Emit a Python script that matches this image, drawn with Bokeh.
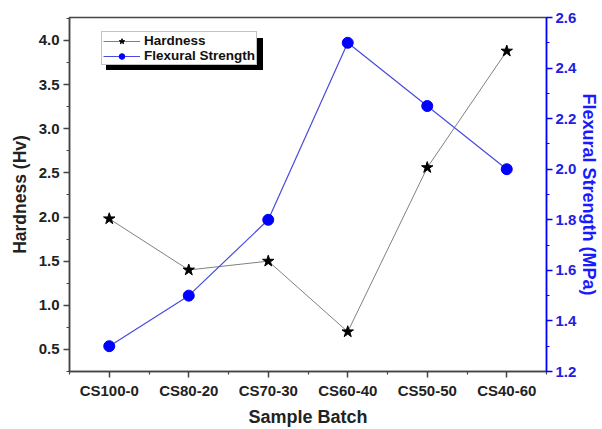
from bokeh.plotting import figure
from bokeh.models import (Range1d, LinearAxis, FixedTicker, Legend, LegendItem,
                          NumeralTickFormatter)
from bokeh.embed import file_html
from bokeh.resources import INLINE

categories = ["CS100-0", "CS80-20", "CS70-30", "CS60-40", "CS50-50", "CS40-60"]
hardness = [1.98, 1.40, 1.50, 0.70, 2.56, 3.88]
flexural = [1.30, 1.50, 1.80, 2.50, 2.25, 2.00]
hardness_ticks = [0.5, 1.0, 1.5, 2.0, 2.5, 3.0, 3.5, 4.0]
hardness_minor = [0.25, 0.75, 1.25, 1.75, 2.25, 2.75, 3.25, 3.75, 4.25]
flex_ticks = [1.2, 1.4, 1.6, 1.8, 2.0, 2.2, 2.4, 2.6]
flex_minor = [1.3, 1.5, 1.7, 1.9, 2.1, 2.3, 2.5]

x = list(range(len(categories)))
x_minor = [i - 0.5 for i in range(len(categories) + 1)]

FONT = "Liberation Sans"
BLUE = "#0000ff"

p = figure(width=602, height=429, output_backend="svg", toolbar_location=None,
           x_range=Range1d(-0.5, len(categories) - 0.5), y_range=Range1d(0.25, 4.26),
           min_border_left=69, min_border_right=55, min_border_top=17, min_border_bottom=57)
p.extra_y_ranges = {"flex": Range1d(1.2, 2.6)}
p.grid.visible = False
p.outline_line_color = "#444444"
p.outline_line_width = 1.5
p.background_fill_color = "white"
p.border_fill_color = "white"

# Hardness series
lh = p.line(x, hardness, line_color="#808080", line_width=1)
sh = p.scatter(x, hardness, marker="star", size=12, fill_color="black", line_color="black")
# Flexural series
lf = p.line(x, flexural, line_color="#4a4ae0", line_width=1.2, y_range_name="flex")
sf = p.scatter(x, flexural, marker="circle", size=11, fill_color=BLUE, line_color=BLUE,
               y_range_name="flex")
# invisible renderer used only as the legend shadow's glyph
ghost = p.line(x, hardness, line_alpha=0)

# Bottom axis
xa = p.xaxis[0]
xa.ticker = FixedTicker(ticks=x, minor_ticks=x_minor)
xa.major_label_overrides = {i: c for i, c in zip(x, categories)}
xa.axis_label = "Sample Batch"

# Left axis
ya = p.yaxis[0]
ya.ticker = FixedTicker(ticks=hardness_ticks, minor_ticks=hardness_minor)
ya.formatter = NumeralTickFormatter(format="0.0")
ya.axis_label = "Hardness (Hv)"

# Right axis
ra = LinearAxis(y_range_name="flex", axis_label="Flexural Strength (MPa)",
                ticker=FixedTicker(ticks=flex_ticks, minor_ticks=flex_minor),
                formatter=NumeralTickFormatter(format="0.0"))
p.add_layout(ra, "right")

for ax in (xa, ya, ra):
    ax.major_label_text_font = FONT
    ax.major_label_text_font_style = "bold"
    ax.major_label_text_font_size = "15px"
    ax.axis_label_text_font = FONT
    ax.axis_label_text_font_style = "bold"
    ax.axis_label_text_font_size = "18px"
    ax.major_tick_in = 0
    ax.major_tick_out = 6
    ax.minor_tick_in = 0
    ax.minor_tick_out = 3
    ax.axis_line_width = 1.5
    ax.major_tick_line_width = 1.5
    ax.minor_tick_line_width = 1.2
    ax.major_label_standoff = 4

xa.axis_label_standoff = 5
ya.axis_label_standoff = 6
ya.axis_label_text_font_size = "17.5px"
ra.major_label_standoff = 3
ra.axis_label_standoff = 0

for ax in (xa, ya):
    ax.axis_line_color = "#444444"
    ax.major_tick_line_color = "#444444"
    ax.minor_tick_line_color = "#444444"
    ax.major_label_text_color = "#222222"
    ax.axis_label_text_color = "#222222"

ra.axis_line_color = BLUE
ra.major_tick_line_color = BLUE
ra.minor_tick_line_color = BLUE
ra.major_label_text_color = "#2020e0"
ra.axis_label_text_color = "#1a1aff"

common = dict(orientation="vertical", label_text_font=FONT, label_text_font_style="bold",
              label_text_font_size="13.5px", label_height=14, glyph_height=14,
              glyph_width=37, label_standoff=4, spacing=0, padding=1, margin=0,
              border_line_width=1, background_fill_alpha=1)

shadow = Legend(items=[LegendItem(label=" ", renderers=[ghost]),
                       LegendItem(label=" ", renderers=[ghost])],
                location=(37, 301), label_width=112,
                background_fill_color="black", border_line_color="black", **common)
main = Legend(items=[LegendItem(label="Hardness", renderers=[lh, sh]),
                     LegendItem(label="Flexural Strength", renderers=[lf, sf])],
              location=(32, 306), background_fill_color="white",
              border_line_color="#888888", label_text_color="#111111", **common)

p.add_layout(shadow, "center")
p.add_layout(main, "center")

open("out.html", "w").write(file_html(p, INLINE))
